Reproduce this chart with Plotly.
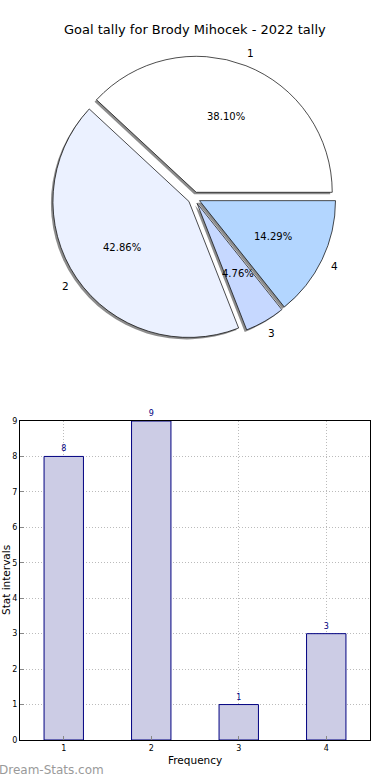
import math
import plotly.graph_objects as go

# ---- data ----
categories = ["1", "2", "3", "4"]
goals = [8, 9, 1, 3]
pie_colors = ["#FFFFFF", "#EBF1FF", "#C6D8FF", "#B3D6FF"]
title_text = "Goal tally for Brody Mihocek - 2022 tally"
y_ticks = list(range(0, 10))
x_ticks = [1, 2, 3, 4]

W, H = 390, 780
FONT = "DejaVu Sans"

# pie geometry (pixels)
cx, cy, R = 194.0, 198.0, 136.0
PULL = 0.045
box = R * (2 + 2 * PULL)
total = sum(goals)
# plotly counterclockwise pies end the first slice at `rotation`;
# place it so the first slice starts at 3 o'clock like the reference
rot = 90 - 360.0 * goals[0] / total


def dom(cxp, cyp):
    return dict(x=[(cxp - box / 2) / W, (cxp + box / 2) / W],
                y=[1 - (cyp + box / 2) / H, 1 - (cyp - box / 2) / H])


def ann(px, py, text, size, color="black", **kw):
    d = dict(x=px / W, y=1 - py / H, xref="paper", yref="paper", text=text,
             showarrow=False, xanchor="center", yanchor="middle",
             font=dict(family=FONT, size=size, color=color))
    d.update(kw)
    return d


fig = go.Figure()

# shadow pie
fig.add_trace(go.Pie(
    labels=categories, values=goals, sort=False, direction="counterclockwise",
    rotation=rot, pull=[PULL] * 4, domain=dom(cx - 2, cy + 2),
    marker=dict(colors=["rgba(0,0,0,0.45)"] * 4, line=dict(width=0)),
    textinfo="none", hoverinfo="skip", showlegend=False,
))
# main pie
fig.add_trace(go.Pie(
    labels=categories, values=goals, sort=False, direction="counterclockwise",
    rotation=rot, pull=[PULL] * 4, domain=dom(cx, cy),
    marker=dict(colors=pie_colors, line=dict(color="black", width=0.7)),
    textinfo="none", showlegend=False,
))

# text on pie, computed from data
annotations = []
start = 0.0
for lab, v in zip(categories, goals):
    frac = v / total
    mid = (start + frac / 2) * 2 * math.pi
    start += frac
    dx, dy = math.cos(mid), -math.sin(mid)
    annotations.append(ann(cx + (PULL + 0.6) * R * dx, cy + (PULL + 0.6) * R * dy,
                           "%.2f%%" % (frac * 100), 10))
    annotations.append(ann(cx + (PULL + 1.1) * R * dx, cy + (PULL + 1.1) * R * dy,
                           lab, 10.5))

# bar chart
fig.add_trace(go.Bar(
    x=x_ticks, y=goals, width=0.45,
    marker=dict(color="#CCCCE5", line=dict(color="#000080", width=1)),
    text=[str(g) for g in goals], textposition="outside",
    textfont=dict(family=FONT, size=8, color="#000080"),
    cliponaxis=False, constraintext="none", showlegend=False,
    xaxis="x", yaxis="y",
))

annotations += [
    ann(195, 30, title_text, 13),
    ann(195, 760, "Frequency", 10.5),
    ann(6, 580, "Stat intervals", 10.5, textangle=-90),
    ann(-3, 770, "Dream-Stats.com", 12, color="#9a9a9a", xanchor="left"),
]

axis_common = dict(
    showline=True, linecolor="black", linewidth=1, mirror=True,
    ticks="inside", ticklen=4, tickcolor="#888888",
    showgrid=True, gridcolor="#bbbbbb", griddash="1px,2px", gridwidth=1,
    zeroline=False, tickfont=dict(family=FONT, size=8, color="black"),
    automargin=False,
)

fig.update_layout(
    width=W, height=H, margin=dict(l=0, r=0, t=0, b=0),
    paper_bgcolor="white", plot_bgcolor="white",
    font=dict(family=FONT), showlegend=False,
    xaxis=dict(domain=[20 / W, 370 / W], range=[0.5, 4.5],
               tickvals=x_ticks, anchor="y", **axis_common),
    yaxis=dict(domain=[1 - 740 / H, 1 - 421 / H], range=[0, 9],
               tickvals=y_ticks, anchor="x", **axis_common),
    annotations=annotations,
)

post = (
    "document.documentElement.style.margin='0';"
    "document.body.style.margin='0';"
    "document.body.style.overflow='hidden';"
    "document.documentElement.style.overflow='hidden';"
    "var g=document.getElementsByClassName('plotly-graph-div')[0];"
    "g.style.position='fixed';g.style.left='0px';g.style.top='0px';"
)
fig.write_html("out.html", config={"displayModeBar": False}, post_script=post)
